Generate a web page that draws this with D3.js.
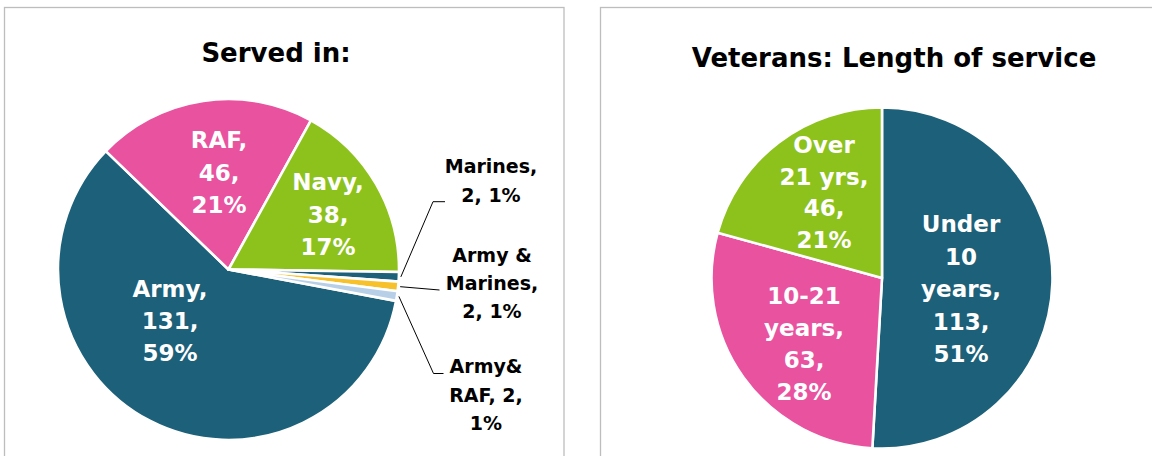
<!DOCTYPE html>
<html>
<head>
<meta charset="utf-8">
<script src="https://cdn.jsdelivr.net/npm/d3@7"></script>
<style>
  html, body { margin: 0; padding: 0; background: #fff; }
  svg { display: block; font-family: "DejaVu Sans", sans-serif; font-weight: bold; }
</style>
</head>
<body>
<svg id="chart" width="1152" height="456"></svg>
<script>
// Served in
const serviceBranches = ["Army", "RAF", "Navy", "Marines", "Army & Marines", "Army&RAF"];
const serviceCounts = [131, 46, 38, 2, 2, 2];
const serviceColors = ["#1c6079", "#e8529f", "#8dc21d", "#1c6079", "#f6c12a", "#b7cfe7"];

// Length of service
const lengthGroups = ["Under 10 years", "10-21 years", "Over 21 yrs"];
const lengthCounts = [113, 63, 46];
const lengthColors = ["#1c6079", "#e8529f", "#8dc21d"];

const svg = d3.select("#chart");

// panel frames
svg.append("rect").attr("x", 4.5).attr("y", 7.5).attr("width", 559.5).attr("height", 470)
    .attr("fill", "none").attr("stroke", "#bdbdbd").attr("stroke-width", 1.3);
svg.append("rect").attr("x", 600.5).attr("y", 7.5).attr("width", 600).attr("height", 470)
    .attr("fill", "none").attr("stroke", "#bdbdbd").attr("stroke-width", 1.3);

// label layout: {v} = value, {p} = percent
const leftLabels = {
    "Army":           {x: 170, y: 297, dy: 32, color: "#fff", size: 23, lines: ["Army,", "{v},", "{p}"]},
    "RAF":            {x: 219, y: 148, dy: 32.5, color: "#fff", size: 23, lines: ["RAF,", "{v},", "{p}"]},
    "Navy":           {x: 328, y: 190, dy: 32.5, color: "#fff", size: 23, lines: ["Navy,", "{v},", "{p}"]},
    "Marines":        {x: 491, y: 173, dy: 29, color: "#000", size: 19, lines: ["Marines,", "{v}, {p}"],
                       leader: [[433, 201.7], [445, 201.7]]},
    "Army & Marines": {x: 492, y: 262, dy: 27.8, color: "#000", size: 19, lines: ["Army &", "Marines,", "{v}, {p}"],
                       leader: [[439.5, 290]]},
    "Army&RAF":       {x: 486, y: 373, dy: 28.5, color: "#000", size: 19, lines: ["Army&", "RAF, {v},", "{p}"],
                       leader: [[433.5, 373.5], [443.5, 373.5]]}
};
const rightLabels = {
    "Under 10 years": {x: 961, y: 232, dy: 32.5, color: "#fff", size: 23, lines: ["Under", "10", "years,", "{v},", "{p}"]},
    "10-21 years":    {x: 804, y: 304, dy: 32, color: "#fff", size: 23, lines: ["10-21", "years,", "{v},", "{p}"]},
    "Over 21 yrs":    {x: 824, y: 153, dy: 31.7, color: "#fff", size: 23, lines: ["Over", "21 yrs,", "{v},", "{p}"]}
};

function drawPie(opts) {
    const g = svg.append("g");
    const total = d3.sum(opts.values);
    const rows = opts.names.map((n, i) => ({name: n, value: opts.values[i], color: opts.colors[i]}));

    const pie = d3.pie().value(d => d.value).sort(null)
        .startAngle(opts.start).endAngle(opts.start + 2 * Math.PI);
    const arc = d3.arc().innerRadius(0).outerRadius(opts.r);
    const arcs = pie(rows);

    g.append("g").attr("transform", `translate(${opts.cx},${opts.cy})`)
        .selectAll("path")
        .data(arcs)
        .enter()
        .append("path")
        .attr("d", arc)
        .attr("fill", d => d.data.color)
        .attr("stroke", "#fff")
        .attr("stroke-width", 2.6)
        .attr("stroke-linejoin", "round");

    g.append("text").attr("x", opts.titleX).attr("y", 62)
        .attr("text-anchor", "middle").attr("font-size", 26).attr("fill", "#000")
        .text(opts.title);

    arcs.forEach(a => {
        const lab = opts.labels[a.data.name];
        const pct = Math.round(a.data.value / total * 100) + "%";

        if (lab.leader) {
            // leader line starts on the rim at the middle of the slice
            const mid = (a.startAngle + a.endAngle) / 2;
            const r0 = opts.r + 2;
            const pts = [[opts.cx + r0 * Math.sin(mid), opts.cy - r0 * Math.cos(mid)]].concat(lab.leader);
            g.append("path").attr("d", d3.line()(pts))
                .attr("fill", "none").attr("stroke", "#000").attr("stroke-width", 1);
        }

        const t = g.append("text").attr("text-anchor", "middle")
            .attr("font-size", lab.size).attr("fill", lab.color);
        lab.lines.forEach((ln, i) => {
            t.append("tspan").attr("x", lab.x).attr("y", lab.y + i * lab.dy)
                .text(ln.replace("{v}", a.data.value).replace("{p}", pct));
        });
    });
}

drawPie({
    names: serviceBranches, values: serviceCounts, colors: serviceColors,
    cx: 228.5, cy: 269.5, r: 170.5, start: 100.6 * Math.PI / 180,
    title: "Served in:", titleX: 276, labels: leftLabels
});

drawPie({
    names: lengthGroups, values: lengthCounts, colors: lengthColors,
    cx: 882, cy: 278, r: 170.5, start: 0,
    title: "Veterans: Length of service", titleX: 894, labels: rightLabels
});
// right title sits a little lower than the left one
svg.selectAll("text").filter(function () { return this.textContent === "Veterans: Length of service"; })
    .attr("y", 67);
</script>
</body>
</html>
